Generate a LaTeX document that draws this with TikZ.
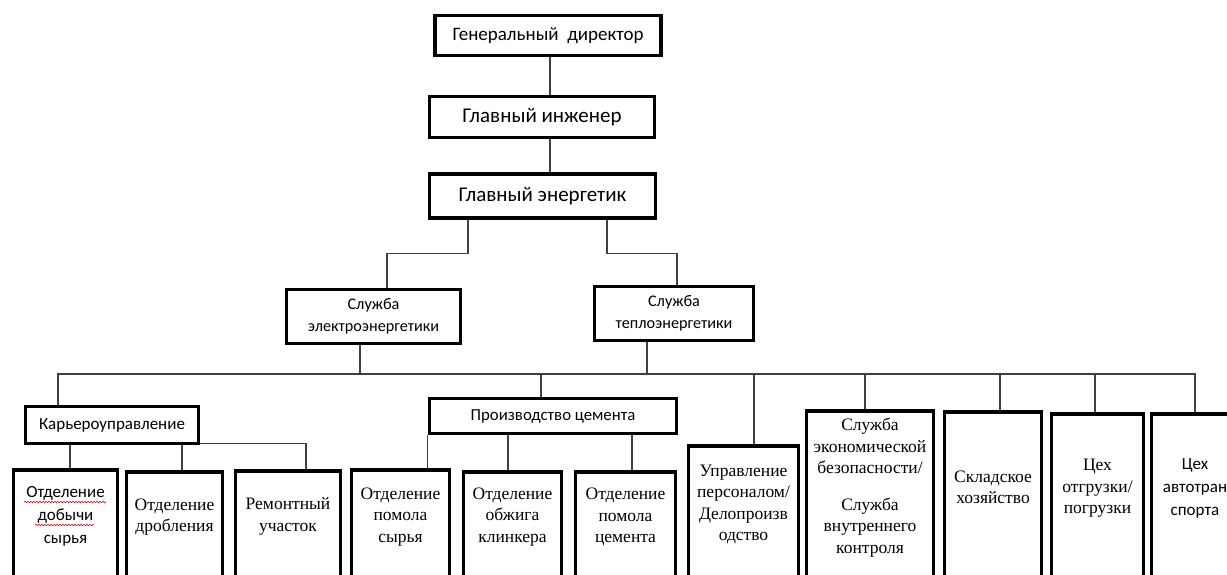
\documentclass[tikz,border=0pt]{standalone}
\usepackage{fontspec}
\setmainfont{Carlito}
\newfontfamily\timesfont{Liberation Serif}
\usetikzlibrary{positioning,calc,decorations.pathmorphing}
\newcommand{\setfs}[2]{\fontsize{#1}{#2}\selectfont}

\begin{document}
\begin{tikzpicture}[
    x=1pt, y=-1pt,
    boss/.style={draw, line width=3.4pt, inner sep=0pt, minimum width=#1,
                 font=\setfs{21}{25}},
    unit/.style={boss=#1, align=center, font=\setfs{16.2}{22}},
    leaf/.style={draw, line width=3.6pt, anchor=north, minimum width=#1,
                 minimum height=220},
    rm/.style={align=center, font=\timesfont\setfs{17.5}{21.5}},
    sf/.style={align=center, font=\setfs{17}{23}},
    wire/.style={line width=1.2pt, draw=black!75},
    squiggle/.style={draw=red!85!black, line width=0.6pt, decorate,
                     decoration={snake, amplitude=0.7pt, segment length=3pt}},
]
\useasboundingbox (0,0) rectangle (1227,575);
\clip (0,0) rectangle (1227,575);

% chain of command
\node[boss=226, minimum height=40, font=\setfs{19}{23}] (gen) at (548,35.5) {Генеральный\ \ директор};
\node[boss=225, minimum height=41] (eng) at (542,117) {Главный инженер};
\node[boss=226, minimum height=44] (energ) at (542.5,196) {Главный энергетик};
\coordinate (spine) at (550,0);

% services
\node[unit=174, minimum height=54] (elektro) at (373.5,316.5) {Служба\\электроэнергетики};
\node[unit=159, minimum height=54] (teplo) at (674,313.5) {Служба\\теплоэнергетики};

% departments
\node[unit=173, minimum height=37, font=\setfs{17}{22}] (karier) at (112,425) {Карьероуправление};
\node[unit=247, minimum height=35, font=\setfs{16.8}{22}] (proizv) at (553,416) {Производство цемента};

% bottom row, boxes run off the page
\node[leaf=104] (dobycha) at (65.5,468) {};
\node[leaf=96] (droblenie) at (174.5,470) {};
\node[leaf=105] (remont) at (288,469) {};
\node[leaf=98] (pomolsyr) at (400.5,468) {};
\node[leaf=98] (obzhig) at (512.5,470) {};
\node[leaf=100] (pomolcem) at (625.5,470) {};
\node[leaf=110] (upravl) at (743.5,444) {};
\node[leaf=127] (ekonom) at (870,409) {};
\node[leaf=97] (sklad) at (993,410) {};
\node[leaf=92] (otgruz) at (1097.5,412) {};
\node[leaf=87] (avto) at (1195,412) {};

\node[sf] (dobycha-t) at (65.5,516) {Отделение\\добычи\\сырья};
\node[rm] (droblenie-t) at (174.5,517) {Отделение\\дробления};
\node[rm] (remont-t) at (288,516.5) {Ремонтный\\участок};
\node[rm] (pomolsyr-t) at (400.5,517) {Отделение\\помола\\сырья};
\node[rm] (obzhig-t) at (512.5,517) {Отделение\\обжига\\клинкера};
\node[rm] (pomolcem-t) at (625.5,517) {Отделение\\помола\\цемента};
\node[rm] (upravl-t) at (743.5,504.5) {Управление\\персоналом/\\Делопроизв\\одство};
\node[rm] (ekonom-t) at (870,487.5) {Служба\\экономической\\безопасности/\\[15pt]Служба\\внутреннего\\контроля};
\node[rm] (sklad-t) at (993,487.5) {Складское\\хозяйство};
\node[rm] (otgruz-t) at (1097.5,488.5) {Цех\\отгрузки/\\погрузки};
\node[sf] (avto-t) at (1195,488.5) {Цех\\автотран\\спорта};

% spell-check marks
\draw[squiggle] (24,502) -- (106,502);
\draw[squiggle] (35,525) -- (94,525);

% links
\draw[wire] (spine |- gen.south) -- (spine |- eng.north);
\draw[wire] (spine |- eng.south) -- (spine |- energ.north);
\draw[wire] ([xshift=-74.5pt]energ.south) -- ++(0,34) -| ([xshift=13.5pt]elektro.north);
\draw[wire] ([xshift=64.5pt]energ.south) -- ++(0,34) -| ([xshift=3pt]teplo.north);

\coordinate (busL) at (58,374);
\coordinate (busR) at (1195,374);
\draw[wire] ([xshift=-13.5pt]elektro.south) -- ([xshift=-13.5pt]elektro.south |- busL);
\draw[wire] ([xshift=-27pt]teplo.south) -- ([xshift=-27pt]teplo.south |- busL);
\draw[wire] (busL |- karier.north) -- (busL) -- (busR) -- (busR |- avto.north);
\foreach \n/\dx in {proizv/-12, upravl/10.5, ekonom/-5, sklad/7, otgruz/-2.5}
    \draw[wire] ([xshift=\dx pt]\n.north) -- ([xshift=\dx pt]\n.north |- busL);

\draw[wire] ([xshift=4.5pt]dobycha.north) -- ([xshift=4.5pt]dobycha.north |- karier.south);
\draw[wire] ([xshift=7.5pt]droblenie.north) -- ([xshift=7.5pt]droblenie.north |- karier.south);
\draw[wire] ([yshift=1.5pt]karier.south east) -| ([xshift=18pt]remont.north);

\draw[wire] (proizv.south west) -- (proizv.south west |- pomolsyr.north);
\draw[wire] ([xshift=-4.5pt]obzhig.north) -- ([xshift=-4.5pt]obzhig.north |- proizv.south);
\draw[wire] ([xshift=6.5pt]pomolcem.north) -- ([xshift=6.5pt]pomolcem.north |- proizv.south);
\end{tikzpicture}
\end{document}
